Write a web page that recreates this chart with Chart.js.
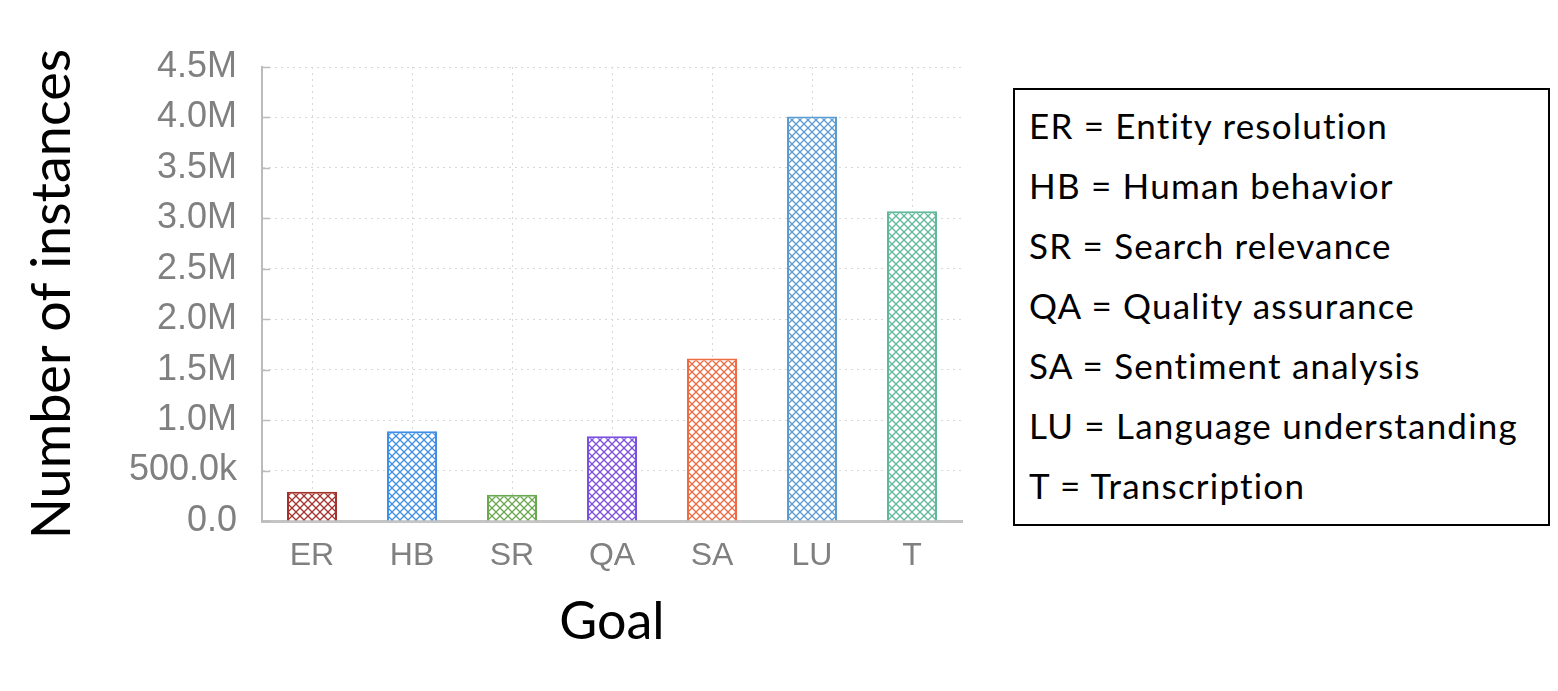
<!DOCTYPE html>
<html>
<head>
<meta charset="utf-8">
<script src="https://cdn.jsdelivr.net/npm/chart.js@4"></script>
<style>
  body { margin: 0; background: #fff; width: 1558px; height: 691px; overflow: hidden; position: relative; }
  #chartBox { position: absolute; left: 0; top: 0; width: 1000px; height: 691px; }
  .legendBox {
    position: absolute; left: 1013px; top: 88px; width: 533px; height: 429px;
    border: 2px solid #000; font-family: Lato, "Open Sans", sans-serif; font-size: 35px;
    letter-spacing: 1.2px; color: #000; padding-top: 5px; box-sizing: content-box;
  }
  .legendBox div { height: 60px; line-height: 60px; padding-left: 14px; white-space: nowrap; }
</style>
</head>
<body>
<div id="chartBox"><canvas id="mychart"></canvas></div>
<div class="legendBox" id="legend"></div>
<script>
// data
const goals = ["ER", "HB", "SR", "QA", "SA", "LU", "T"];
const goalNames = ["Entity resolution", "Human behavior", "Search relevance", "Quality assurance",
    "Sentiment analysis", "Language understanding", "Transcription"];
const instances = [290000, 890000, 260000, 840000, 1610000, 4010000, 3070000];
const barColors = ["#a3322c", "#3f8fe6", "#6aa84f", "#7b4fe0", "#ee6a42", "#5b9bd0", "#5fb89a"];
const yTicks = [0, 500000, 1000000, 1500000, 2000000, 2500000, 3000000, 3500000, 4000000, 4500000];

const makeHatch = function(color) {
    let c = document.createElement("canvas");
    c.width = 8; c.height = 8;
    let g = c.getContext("2d");
    g.fillStyle = "#fff";
    g.fillRect(0, 0, 8, 8);
    g.strokeStyle = color;
    g.lineWidth = 1.3;
    g.beginPath();
    g.moveTo(0, 0); g.lineTo(8, 8);
    g.moveTo(8, 0); g.lineTo(0, 8);
    g.stroke();
    return g.createPattern(c, "repeat");
}

const fmtTick = function(v) {
    if (v === 0) return "0.0";
    if (v < 1000000) return (v / 1000).toFixed(1) + "k";
    return (v / 1000000).toFixed(1) + "M";
}

// small inward tick marks on the y axis
const innerTicks = {
    id: "innerTicks",
    afterDraw(chart) {
        const y = chart.scales.y, ctx = chart.ctx, left = chart.chartArea.left;
        ctx.save();
        ctx.strokeStyle = "#bbbbbb";
        ctx.lineWidth = 1.5;
        y.ticks.forEach(t => {
            const py = Math.round(y.getPixelForValue(t.value)) + 0.5;
            ctx.beginPath();
            ctx.moveTo(left, py);
            ctx.lineTo(left + 8, py);
            ctx.stroke();
        });
        ctx.restore();
    }
};

const setUpLegend = function() {
    const box = document.getElementById("legend");
    goals.forEach((g, i) => {
        let d = document.createElement("div");
        d.textContent = g + " = " + goalNames[i];
        box.appendChild(d);
    });
}

const addGraph = function() {
    const ctx = document.getElementById("mychart").getContext("2d");
    new Chart(ctx, {
        type: "bar",
        data: {
            labels: goals,
            datasets: [{
                data: instances,
                backgroundColor: barColors.map(makeHatch),
                borderColor: barColors,
                borderWidth: 2,
                barPercentage: 0.5,
                categoryPercentage: 1.0
            }]
        },
        options: {
            responsive: true,
            maintainAspectRatio: false,
            animation: false,
            layout: { padding: { top: 67, right: 38, bottom: 0, left: 0 } },
            plugins: { legend: { display: false }, tooltip: { enabled: false } },
            scales: {
                x: {
                    grid: { offset: false, color: "#d8d8d8", lineWidth: 1, drawTicks: false },
                    border: { color: "#c4c4c4", width: 3, dash: [2, 4] },
                    ticks: { color: "#808080", padding: 16,
                        font: { family: "'Liberation Sans Narrow', 'Arial Narrow', 'Liberation Sans', sans-serif", size: 32 } },
                    title: { display: true, text: "Goal", color: "#000",
                        font: { family: "Lato, 'Open Sans', sans-serif", size: 52 }, padding: { top: 0, bottom: 38 } },
                    afterFit: function(s) { s.height = 170; }
                },
                y: {
                    min: 0, max: 4500000,
                    afterBuildTicks: function(s) { s.ticks = yTicks.map(v => ({ value: v })); },
                    grid: { color: "#d8d8d8", lineWidth: 1, drawTicks: false },
                    border: { color: "#bbbbbb", width: 2, dash: [2, 4] },
                    ticks: { color: "#808080", padding: 25, callback: fmtTick,
                        font: { family: "'Liberation Sans', Arial, sans-serif", size: 36 } },
                    title: { display: true, text: "Number of instances", color: "#000",
                        font: { family: "Lato, 'Open Sans', sans-serif", size: 54 }, padding: { top: 20, bottom: 0 } },
                    afterFit: function(s) { s.width = 262; }
                }
            }
        },
        plugins: [innerTicks]
    });
}

setUpLegend();
addGraph();
</script>
</body>
</html>
